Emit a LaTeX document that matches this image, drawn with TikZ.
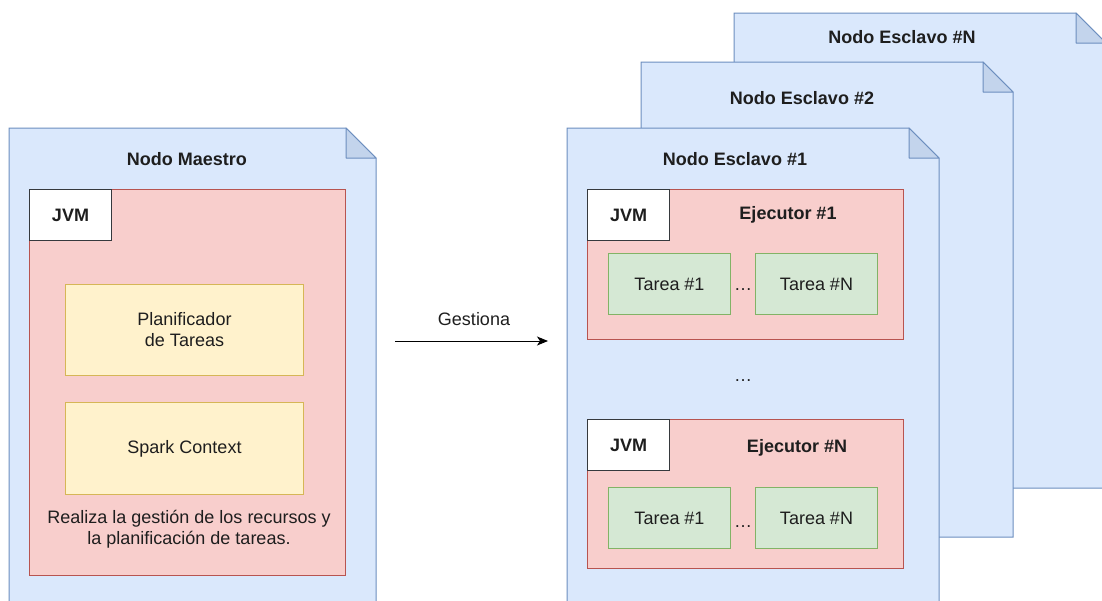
\documentclass[tikz,border=0pt]{standalone}
\usepackage{fontspec}
\setmainfont{Liberation Sans}
\usetikzlibrary{arrows.meta}

\definecolor{pagefill}{HTML}{DAE8FC}
\definecolor{pageline}{HTML}{6C8EBF}
\definecolor{foldfill}{HTML}{C3D4EC}
\definecolor{execfill}{HTML}{F8CECC}
\definecolor{execline}{HTML}{B85450}
\definecolor{compfill}{HTML}{FFF2CC}
\definecolor{compline}{HTML}{D6B656}
\definecolor{taskfill}{HTML}{D5E8D4}
\definecolor{taskline}{HTML}{82B366}
\definecolor{jvmline}{HTML}{36393D}
\definecolor{txt}{HTML}{1E1E1E}

% A page with a folded top-right corner: name, left, top, width, height
\newcommand\notepage[5]{%
  \node[pagebody, minimum width=#4pt, minimum height=#5pt] (#1) at (#2,#3) {};
  \filldraw[fill=pagefill, draw=pageline]
    (#1.north west) -- ([xshift=-30pt]#1.north east) -- ([yshift=-30pt]#1.north east)
    -- (#1.south east) -- (#1.south west) -- cycle;
  \filldraw[fill=foldfill, draw=pageline, line join=round]
    ([xshift=-30pt]#1.north east) -- ([xshift=-30pt,yshift=-30pt]#1.north east)
    -- ([yshift=-30pt]#1.north east) -- cycle;
}

\begin{document}
\begin{tikzpicture}[x=1pt, y=-1pt, line width=1pt,
  font=\fontsize{18}{21}\selectfont, text=txt,
  pagebody/.style={rectangle, inner sep=0pt, anchor=north west},
  box/.style={rectangle, inner sep=0pt, anchor=north west, align=center},
  executor/.style={box, fill=execfill, draw=execline},
  jvm/.style={box, fill=white, draw=jvmline, minimum width=82pt, minimum height=51pt, font=\fontsize{18}{21}\selectfont\bfseries},
  component/.style={box, fill=compfill, draw=compline, minimum width=238pt},
  task/.style={box, fill=taskfill, draw=taskline, minimum width=122pt, minimum height=61pt},
  title/.style={font=\fontsize{18}{21}\selectfont\bfseries, inner sep=0pt},
  plain/.style={inner sep=0pt, align=center}]

\useasboundingbox (0,0) rectangle (1102,600);
\clip (0,0) rectangle (1102,600);

% ---------- master node ----------
\notepage{master}{9}{128}{366}{474}
\node[title] (mtitle) at (187,159) {Nodo Maestro};
\node[executor, minimum width=316pt, minimum height=386pt] (mexec) at (29,189) {};
\node[jvm] (mjvm) at (29,189) {JVM};
\node[component, minimum height=91pt] (planner) at (65,284) {Planificador\\de Tareas};
\node[component, minimum height=92pt] (context) at (65,402) {Spark Context};
\node[plain] (mnote) at (189,529) {Realiza la gestión de los recursos y\\la planificación de tareas.};

% ---------- worker nodes, back to front ----------
\notepage{slaveN}{734}{13}{371}{474}
\node[title] (tN) at (902,37) {Nodo Esclavo \#N};

\notepage{slave2}{641}{62}{371}{474}
\node[title] (t2) at (802,98) {Nodo Esclavo \#2};

\notepage{slave1}{567}{128}{371}{474}
\node[title] (t1) at (735,159) {Nodo Esclavo \#1};

% first executor
\node[executor, minimum width=316pt, minimum height=150pt] (ex1) at (587,189) {};
\node[jvm] (jvm1) at (587,189) {JVM};
\node[title] (ex1t) at (788,215) {Ejecutor \#1};
\node[task] (ta11) at (608,253) {Tarea \#1};
\node[task] (ta1N) at (755,253) {Tarea \#N};
\node[plain] (dots1) at (743,290) {…};

\node[plain] (dotsmid) at (743,381) {…};

% last executor
\node[executor, minimum width=316pt, minimum height=149pt] (exN) at (587,419) {};
\node[jvm] (jvmN) at (587,419) {JVM};
\node[title] (exNt) at (797,448) {Ejecutor \#N};
\node[task] (taN1) at (608,487) {Tarea \#1};
\node[task] (taNN) at (755,487) {Tarea \#N};
\node[plain] (dotsN) at (743,527) {…};

% ---------- management arrow ----------
\coordinate (gfrom) at (395,341);
\coordinate (gto) at (548,341);
\draw[-{Stealth[length=11pt,width=9pt,inset=3pt]}, line width=1pt] (gfrom) -- (gto);
\node[plain] (glabel) at (474,319) {Gestiona};

\end{tikzpicture}
\end{document}
